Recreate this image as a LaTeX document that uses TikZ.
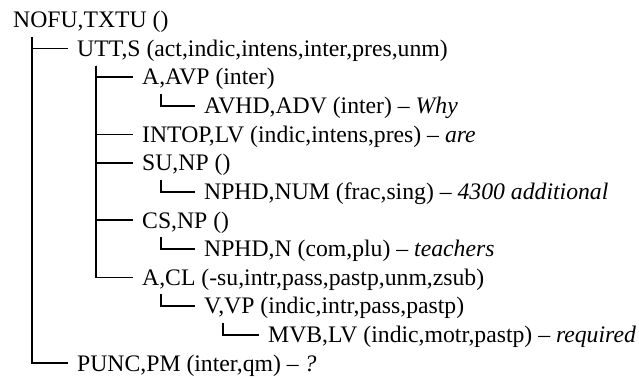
\documentclass[tikz,border=0pt]{standalone}
\usepackage{fontspec}
\setmainfont{Liberation Serif}
\begin{document}
\begin{tikzpicture}[x=1pt,y=1pt,
  lbl/.style={anchor=west,inner sep=0pt,text height=15.6pt,text depth=0pt,font=\fontsize{23.7}{28}\selectfont},
  conn/.style={line width=1.8pt,black}]
\useasboundingbox (0,0) rectangle (639,-377);
\def\dy{28.6}
\node[lbl] (n0) at (13,-20) {NOFU,TXTU ()};
\node[lbl] (n1) at (77,-20-1*\dy) {UTT,S (act,indic,intens,inter,pres,unm)};
\node[lbl] (n2) at (142,-20-2*\dy) {A,AVP (inter)};
\node[lbl] (n3) at (204,-20-3*\dy) {AVHD,ADV (inter) -- \textit{Why}};
\node[lbl] (n4) at (142,-20-4*\dy) {INTOP,LV (indic,intens,pres) -- \textit{are}};
\node[lbl] (n5) at (142,-20-5*\dy) {SU,NP ()};
\node[lbl] (n6) at (204,-20-6*\dy) {NPHD,NUM (frac,sing) -- \textit{4300 additional}};
\node[lbl] (n7) at (142,-20-7*\dy) {CS,NP ()};
\node[lbl] (n8) at (204,-20-8*\dy) {NPHD,N (com,plu) -- \textit{teachers}};
\node[lbl] (n9) at (142,-20-9*\dy) {A,CL (-su,intr,pass,pastp,unm,zsub)};
\node[lbl] (n10) at (204,-20-10*\dy) {V,VP (indic,intr,pass,pastp)};
\node[lbl] (n11) at (268,-20-11*\dy) {MVB,LV (indic,motr,pastp) -- \textit{required}};
\node[lbl] (n12) at (77,-20-12*\dy) {PUNC,PM (inter,qm) -- \textit{?}};
\foreach \p/\c in {n0/n1,n0/n12,n1/n2,n1/n4,n1/n5,n1/n7,n1/n9,n2/n3,n5/n6,n7/n8,n9/n10,n10/n11}
  \draw[conn] ([xshift=19pt,yshift=-17pt]\p.west) |- ([xshift=-9pt]\c.west);
\end{tikzpicture}
\end{document}
